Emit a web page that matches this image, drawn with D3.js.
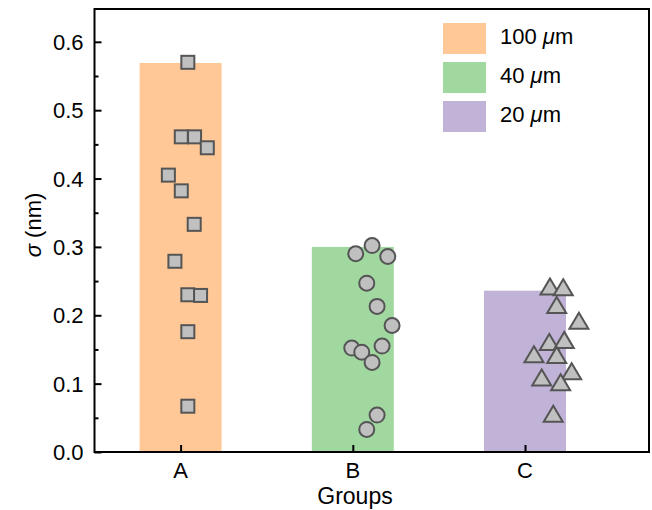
<!DOCTYPE html>
<html>
<head>
<meta charset="utf-8">
<script src="https://cdn.jsdelivr.net/npm/d3@7"></script>
<style>
  body { margin: 0; background: #fff; }
  text { font-family: "Liberation Sans", Arial, sans-serif; fill: #000; }
</style>
</head>
<body>
<div id="chart"></div>
<script>
// groups and bar heights
const groups = ["A", "B", "C"];
const barValues = [0.569, 0.300, 0.236];
const barColors = ["#ffc896", "#a0d8a0", "#c1b2d7"];
const legendLabels = ["100", "40", "20"];

// individual points (sigma values) and horizontal jitter (in category units)
const valuesA = [0.570, 0.461, 0.461, 0.445, 0.405, 0.382, 0.333, 0.279, 0.230, 0.229, 0.176, 0.067];
const jitterA = [0.042, 0.004, 0.081, 0.155, -0.071, 0.004, 0.079, -0.033, 0.042, 0.116, 0.042, 0.042];
const valuesB = [0.290, 0.302, 0.286, 0.247, 0.213, 0.185, 0.152, 0.146, 0.155, 0.131, 0.054, 0.033];
const jitterB = [0.017, 0.112, 0.203, 0.081, 0.141, 0.228, -0.006, 0.052, 0.170, 0.112, 0.141, 0.081];
const valuesC = [0.242, 0.241, 0.215, 0.192, 0.161, 0.164, 0.143, 0.142, 0.109, 0.118, 0.102, 0.056];
const jitterC = [0.145, 0.222, 0.184, 0.313, 0.141, 0.228, 0.052, 0.184, 0.097, 0.271, 0.207, 0.164];

const yTicks = [0, 0.1, 0.2, 0.3, 0.4, 0.5, 0.6];
const yMinorTicks = [0.05, 0.15, 0.25, 0.35, 0.45, 0.55];

const width = 652, height = 510;
const plotLeft = 94.5, plotRight = 649, plotTop = 9, plotBottom = 452;

const svg = d3.select("#chart").append("svg")
  .attr("width", width)
  .attr("height", height);

const x = d3.scaleLinear().domain([-0.5, 2.72]).range([plotLeft, plotRight]);
const y = d3.scaleLinear().domain([0, 0.648]).range([plotBottom, plotTop]);

const barHalf = 0.238;

// bars
svg.append("g").selectAll("rect")
  .data(barValues)
  .enter().append("rect")
  .attr("x", (d, i) => x(i - barHalf))
  .attr("width", (d, i) => x(i + barHalf) - x(i - barHalf))
  .attr("y", d => y(d))
  .attr("height", d => y(0) - y(d))
  .attr("fill", (d, i) => barColors[i]);

// axes (ticks inward)
const yAxis = d3.axisRight(y).tickValues(yTicks).tickSize(7).tickFormat("");
svg.append("g")
  .attr("transform", `translate(${plotLeft},0)`)
  .call(yAxis)
  .call(g => g.select(".domain").remove())
  .call(g => g.selectAll("line").attr("stroke", "#000").attr("stroke-width", 2));

const yMinor = d3.axisRight(y).tickValues(yMinorTicks).tickSize(4).tickFormat("");
svg.append("g")
  .attr("transform", `translate(${plotLeft},0)`)
  .call(yMinor)
  .call(g => g.select(".domain").remove())
  .call(g => g.selectAll("line").attr("stroke", "#000").attr("stroke-width", 2));

// y tick labels
svg.append("g").selectAll("text")
  .data(yTicks)
  .enter().append("text")
  .attr("x", plotLeft - 11)
  .attr("y", d => y(d) + 8)
  .attr("text-anchor", "end")
  .style("font-size", "22px")
  .text(d => d.toFixed(1));

const xAxis = d3.axisTop(x).tickValues([0, 1, 2]).tickSize(7).tickFormat("");
svg.append("g")
  .attr("transform", `translate(0,${plotBottom})`)
  .call(xAxis)
  .call(g => g.select(".domain").remove())
  .call(g => g.selectAll("line").attr("stroke", "#000").attr("stroke-width", 2));

svg.append("g").selectAll("text")
  .data(groups)
  .enter().append("text")
  .attr("x", (d, i) => x(i))
  .attr("y", 478)
  .attr("text-anchor", "middle")
  .style("font-size", "22px")
  .text(d => d);

// frame
svg.append("rect")
  .attr("x", plotLeft)
  .attr("y", plotTop)
  .attr("width", plotRight - plotLeft)
  .attr("height", plotBottom - plotTop)
  .attr("fill", "none")
  .attr("stroke", "#000")
  .attr("stroke-width", 2);

// axis titles
svg.append("text")
  .attr("x", 355)
  .attr("y", 504)
  .attr("text-anchor", "middle")
  .style("font-size", "23px")
  .text("Groups");

const yTitle = svg.append("text")
  .attr("transform", "translate(41,225) rotate(-90)")
  .attr("text-anchor", "middle")
  .style("font-size", "22px");
yTitle.append("tspan").style("font-style", "italic").text("σ");
yTitle.append("tspan").text(" (nm)");

// points
const markerFill = "#c0c0c0", markerStroke = "#555555";

svg.append("g").selectAll("rect")
  .data(valuesA)
  .enter().append("rect")
  .attr("x", (d, i) => x(0 + jitterA[i]) - 6.5)
  .attr("y", d => y(d) - 6.5)
  .attr("width", 13)
  .attr("height", 13)
  .attr("fill", markerFill)
  .attr("stroke", markerStroke)
  .attr("stroke-width", 2);

svg.append("g").selectAll("circle")
  .data(valuesB)
  .enter().append("circle")
  .attr("cx", (d, i) => x(1 + jitterB[i]))
  .attr("cy", d => y(d))
  .attr("r", 7.5)
  .attr("fill", markerFill)
  .attr("stroke", markerStroke)
  .attr("stroke-width", 2);

const tw = 9.5, th = 8;
svg.append("g").selectAll("path")
  .data(valuesC)
  .enter().append("path")
  .attr("d", (d, i) => {
    const cx = x(2 + jitterC[i]), cy = y(d);
    return `M${cx},${cy - th}L${cx + tw},${cy + th}L${cx - tw},${cy + th}Z`;
  })
  .attr("fill", markerFill)
  .attr("stroke", markerStroke)
  .attr("stroke-width", 2)
  .attr("stroke-linejoin", "miter");

// legend
const legend = svg.append("g").attr("transform", "translate(443,23)");
legend.selectAll("rect")
  .data(legendLabels)
  .enter().append("rect")
  .attr("x", 0)
  .attr("y", (d, i) => i * 39)
  .attr("width", 43)
  .attr("height", 31)
  .attr("fill", (d, i) => barColors[i]);

const legText = legend.selectAll("text")
  .data(legendLabels)
  .enter().append("text")
  .attr("x", 57)
  .attr("y", (d, i) => i * 39 + 21)
  .style("font-size", "22px");
legText.append("tspan").text(d => d + " ");
legText.append("tspan").style("font-style", "italic").text("μ");
legText.append("tspan").text("m");
</script>
</body>
</html>
